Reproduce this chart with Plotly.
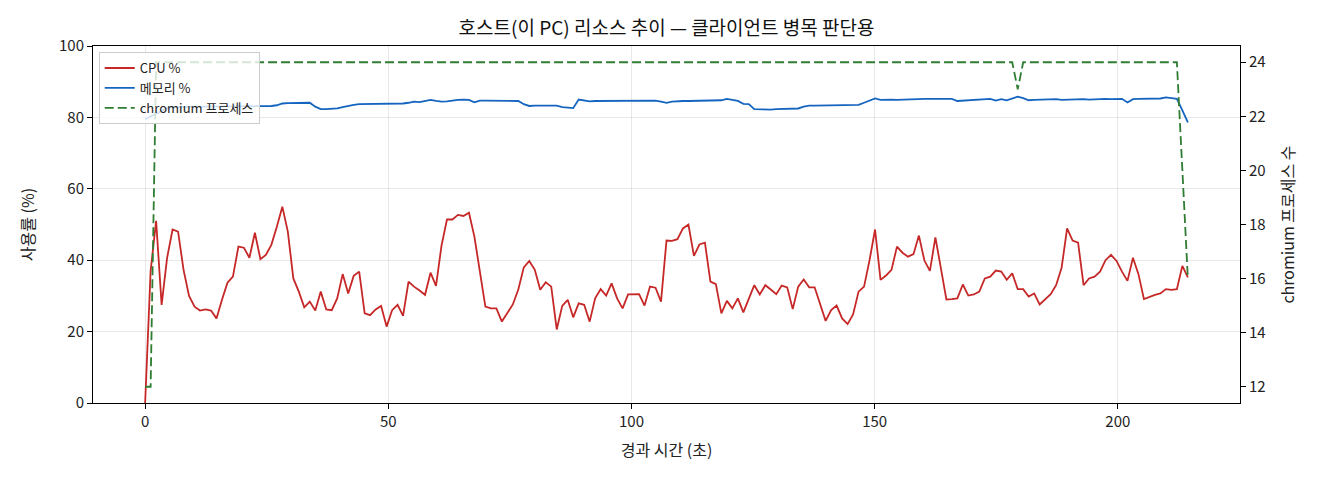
import plotly.graph_objects as go

# 샘플 간격 (초) — 그림에서 191개 샘플, 0 ~ 214.4초
SAMPLE_SEC = 1.1284

cpu = [
    0, 37, 51, 27.5, 40.6, 48.6, 48, 37.3, 30, 27,
    25.9, 26.2, 25.9, 23.7, 28.9, 33.7, 35.4, 43.8, 43.5, 40.7,
    47.7, 40.3, 41.5, 44.3, 49.4, 55, 48, 34.9, 31.2, 26.8,
    28.4, 25.9, 31.2, 26.2, 26, 29.3, 36.1, 30.7, 35.6, 36.8,
    25.1, 24.6, 26.2, 27.2, 21.4, 26, 27.5, 24.4, 34, 32.6,
    31.5, 30.3, 36.5, 32.8, 44, 51.4, 51.4, 52.7, 52.4, 53.3,
    46.6, 37.3, 27, 26.5, 26.5, 22.8, 25.3, 27.6, 31.8, 38,
    39.8, 37.3, 31.7, 33.8, 32.6, 20.6, 27.2, 28.9, 24, 27.9,
    27.5, 22.8, 29.3, 31.9, 30.1, 33.5, 29.3, 26.5, 30.4, 30.5,
    30.5, 27.3, 32.6, 32.3, 28.4, 45.5, 45.4, 45.9, 48.9, 50,
    41.2, 44.4, 44.9, 34, 33.3, 25.1, 28.6, 26.5, 29.3, 25.4,
    29.3, 33, 30.4, 33, 31.8, 30.5, 32.9, 32.4, 26.3, 32.6,
    34.6, 32.4, 32.4, 27.5, 23, 26, 27.3, 23.7, 22.1, 24.8,
    31.2, 32.6, 40, 48.6, 34.5, 35.7, 37.3, 43.8, 42.1, 41,
    41.7, 46.9, 39.9, 37, 46.4, 37.7, 29, 29.1, 29.3, 33.2,
    30.1, 30.4, 31.2, 34.9, 35.4, 37.1, 36.8, 34.5, 36.3, 31.9,
    31.9, 29.8, 30.7, 27.6, 29.1, 30.5, 33, 37.9, 48.9, 45.5,
    44.9, 33, 34.9, 35.4, 36.8, 40, 41.5, 39.8, 36.8, 34.2,
    40.7, 36.1, 29.1, 29.8, 30.3, 30.7, 31.9, 31.7, 31.9, 38.4,
    35.2,
]

memory = [
    79.5, 80.3, 81.2, 82.0, 82.6, 82.8, 82.9, 83.0, 83.0, 83.0,
    83.0, 83.0, 83.0, 83.1, 83.1, 83.0, 83.0, 83.0, 83.0, 83.0,
    83.0, 83.0, 83.1, 83.2, 83.4, 83.9, 84.0, 84.0, 84.1, 84.1,
    84.1, 83.0, 82.3, 82.3, 82.4, 82.5, 82.9, 83.3, 83.5, 83.7,
    83.7, 83.7, 83.7, 83.7, 83.7, 83.7, 83.8, 83.9, 84.1, 84.4,
    84.3, 84.5, 84.9, 84.6, 84.4, 84.5, 84.8, 84.9, 85.0, 84.9,
    84.2, 84.7, 84.7, 84.7, 84.7, 84.7, 84.7, 84.7, 84.6, 83.7,
    83.2, 83.3, 83.3, 83.4, 83.5, 83.3, 82.9, 82.7, 82.6, 85.0,
    84.7, 84.5, 84.6, 84.6, 84.7, 84.7, 84.7, 84.7, 84.7, 84.7,
    84.7, 84.7, 84.7, 84.7, 84.4, 84.1, 84.4, 84.6, 84.6, 84.6,
    84.6, 84.7, 84.7, 84.7, 84.7, 84.8, 85.2, 84.9, 84.6, 83.8,
    83.7, 82.3, 82.2, 82.1, 82.2, 82.3, 82.4, 82.4, 82.5, 82.5,
    83.0, 83.3, 83.3, 83.3, 83.4, 83.4, 83.4, 83.5, 83.5, 83.5,
    83.5, 84.1, 84.8, 85.3, 84.9, 85.0, 85.0, 84.9, 85.0, 85.0,
    85.1, 85.1, 85.2, 85.2, 85.2, 85.3, 85.3, 85.2, 84.6, 84.7,
    84.8, 84.9, 84.9, 85.0, 85.2, 84.7, 85.1, 84.8, 85.3, 85.8,
    85.4, 84.8, 84.9, 85.0, 85.1, 85.1, 85.1, 84.9, 85.0, 84.9,
    85.0, 85.1, 85.0, 85.1, 85.1, 85.2, 85.1, 85.2, 85.2, 84.2,
    85.1, 85.2, 85.2, 85.2, 85.2, 85.3, 85.6, 85.4, 85.2, 82.0,
    78.6,
]

chromium = [12, 12] + [24] * 157 + [23] + [24] * 29 + [20, 16]

elapsed = [round(i * SAMPLE_SEC, 2) for i in range(len(cpu))]

FONT = "Noto Sans CJK KR"

fig = go.Figure()

fig.add_trace(go.Scatter(
    x=elapsed, y=cpu, name="CPU %", mode="lines",
    line=dict(color="#c62828", width=1.8),
))
fig.add_trace(go.Scatter(
    x=elapsed, y=memory, name="메모리 %", mode="lines",
    line=dict(color="#1565c0", width=1.8),
))
fig.add_trace(go.Scatter(
    x=elapsed, y=chromium, name="chromium 프로세스", mode="lines",
    line=dict(color="#2e7d32", width=1.8, dash="9px,4px"),
    yaxis="y2",
))

axis_common = dict(
    showline=True, linecolor="#000", linewidth=1,
    ticks="outside", ticklen=5, tickcolor="#000",
    tickfont=dict(size=15, color="#222"),
    zeroline=False,
)

# 페이지 여백(8px)만큼 안쪽으로 당겨 둠
fig.update_layout(
    width=1320, height=480,
    margin=dict(l=85, r=88, t=38, b=85),
    paper_bgcolor="white", plot_bgcolor="white",
    font=dict(family=FONT, color="#222"),
    title=dict(
        text="호스트(이 PC) 리소스 추이 — 클라이언트 병목 판단용",
        xref="paper", x=0.5, xanchor="center", y=0.958, yanchor="middle",
        font=dict(size=19, color="#111"),
    ),
    xaxis=dict(
        **axis_common,
        mirror=True,
        range=[-10.72, 225.12],
        tickvals=[0, 50, 100, 150, 200],
        showgrid=True, gridcolor="rgba(0,0,0,0.09)", gridwidth=1,
        title=dict(text="경과 시간 (초)", font=dict(size=16), standoff=14),
    ),
    yaxis=dict(
        **axis_common,
        range=[0, 100],
        tickvals=[0, 20, 40, 60, 80, 100],
        showgrid=True, gridcolor="rgba(0,0,0,0.09)", gridwidth=1,
        title=dict(text="사용률 (%)", font=dict(size=16), standoff=20),
    ),
    yaxis2=dict(
        **axis_common,
        overlaying="y", side="right",
        range=[11.4, 24.6],
        tickvals=[12, 14, 16, 18, 20, 22, 24],
        showgrid=False,
        title=dict(text="chromium 프로세스 수", font=dict(size=16), standoff=18),
    ),
    legend=dict(
        x=0.005, y=0.983, xanchor="left", yanchor="top",
        bgcolor="rgba(255,255,255,0.8)",
        bordercolor="#cccccc", borderwidth=1,
        font=dict(size=13, color="#222"),
        itemwidth=30,
        tracegroupgap=0,
    ),
    showlegend=True,
)

fig.write_html("out.html")
